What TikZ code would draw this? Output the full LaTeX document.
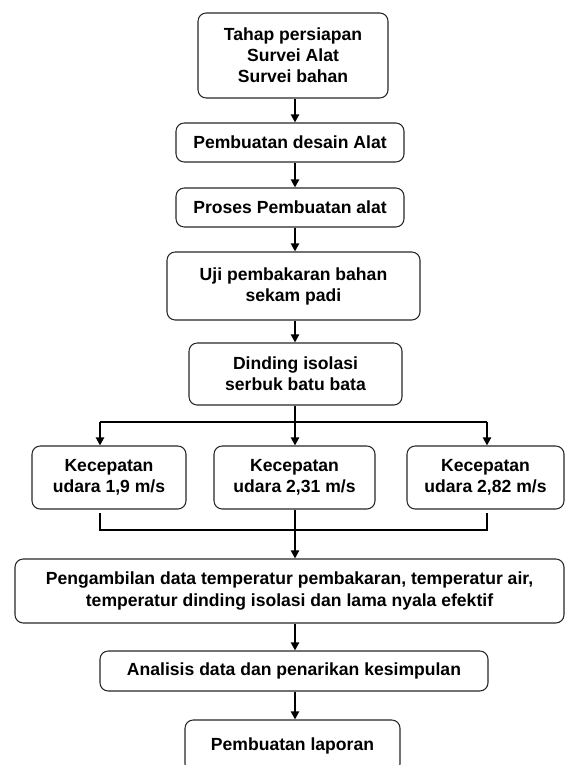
\documentclass[tikz,border=0pt]{standalone}
\usepackage{fontspec}
\setmainfont{Liberation Sans}
\usetikzlibrary{arrows.meta}

\begin{document}
\begin{tikzpicture}[x=0.03cm,y=-0.03cm,
    font=\fontsize{15}{18}\selectfont\bfseries,
    kotak/.style={draw=black!85,line width=0.9pt,rounded corners=7pt,align=center,inner sep=0pt},
    panah/.style={line width=1.8pt,-{Triangle[width=7pt,length=7pt]}},
    garis/.style={line width=0.9pt}]
  \useasboundingbox (0,0) rectangle (565,765);
  \clip (0,0) rectangle (565,765);
  \coordinate (tengah) at (295,0);
  % alur utama
  \node[kotak,minimum width=5.7cm,minimum height=2.55cm] (tahap) at (293,55.5) {Tahap persiapan\\Survei Alat\\Survei bahan};
  \node[kotak,minimum width=6.84cm,minimum height=1.17cm] (desain) at (290,142.5) {Pembuatan desain Alat};
  \node[kotak,minimum width=6.84cm,minimum height=1.17cm] (proses) at (290,207.5) {Proses Pembuatan alat};
  \node[kotak,minimum width=7.59cm,minimum height=2.04cm] (uji) at (293.5,286) {Uji pembakaran bahan\\sekam padi};
  \node[kotak,minimum width=6.39cm,minimum height=1.86cm] (dinding) at (295.5,374) {Dinding isolasi\\serbuk batu bata};
  % kecepatan udara
  \node[kotak,minimum width=4.62cm,minimum height=1.89cm] (udaraA) at (109,477.5) {Kecepatan\\udara 1,9 m/s};
  \node[kotak,minimum width=4.83cm,minimum height=1.89cm] (udaraB) at (294.5,477.5) {Kecepatan\\udara 2,31 m/s};
  \node[kotak,minimum width=4.71cm,minimum height=1.89cm] (udaraC) at (485.5,477.5) {Kecepatan\\udara 2,82 m/s};
  \node[kotak,minimum width=16.47cm,minimum height=1.92cm] (data) at (289.5,591) {Pengambilan data temperatur pembakaran, temperatur air,\\temperatur dinding isolasi dan lama nyala efektif};
  \node[kotak,minimum width=11.64cm,minimum height=1.2cm] (analisis) at (294,671) {Analisis data dan penarikan kesimpulan};
  \node[kotak,minimum width=6.45cm,minimum height=1.56cm] (laporan) at (292.5,746) {Pembuatan laporan};
  % cabang
  \coordinate (atasL) at (100,422);
  \coordinate (atasR) at (487,422);
  \coordinate (bawahL) at (100,530);
  \coordinate (bawahR) at (487,530);
  \draw[garis] (atasL) -- (atasR);
  \draw[panah] (atasL) -- (udaraA.north -| atasL);
  \draw[panah] (atasR) -- (udaraC.north -| atasR);
  \draw[garis] ([yshift=-3]udaraA.south -| bawahL) -- (bawahL) -- (bawahR) -- ([yshift=-3]udaraC.south -| bawahR);
  % panah
  \draw[panah] (tahap.south -| tengah) -- (desain.north -| tengah);
  \draw[panah] (desain.south -| tengah) -- (proses.north -| tengah);
  \draw[panah] (proses.south -| tengah) -- (uji.north -| tengah);
  \draw[panah] (uji.south -| tengah) -- (dinding.north -| tengah);
  \draw[panah] (dinding.south -| tengah) -- (udaraB.north -| tengah);
  \draw[panah] (udaraB.south -| tengah) -- (data.north -| tengah);
  \draw[panah] (data.south -| tengah) -- (analisis.north -| tengah);
  \draw[panah] (analisis.south -| tengah) -- (laporan.north -| tengah);
\end{tikzpicture}
\end{document}
